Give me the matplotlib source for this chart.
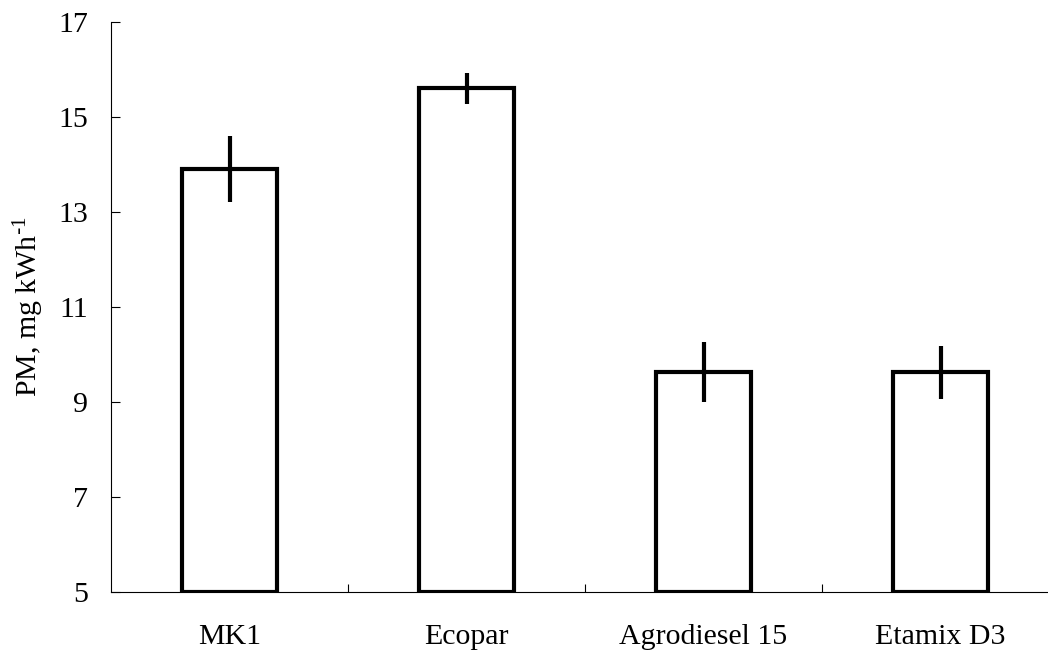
import numpy as np
import matplotlib
matplotlib.use('Agg')
import matplotlib.pyplot as plt
from matplotlib.ticker import FixedLocator

# data
fuels = ['MK1', 'Ecopar', 'Agrodiesel 15', 'Etamix D3']
pm_values = [13.9, 15.6, 9.63, 9.62]
pm_errors = [0.70, 0.33, 0.63, 0.56]
y_ticks = [5, 7, 9, 11, 13, 15, 17]

plt.rcParams['font.family'] = ['Liberation Serif', 'DejaVu Serif']
plt.rcParams['mathtext.default'] = 'regular'

fig = plt.figure(figsize=(10.48, 6.5), dpi=100)
ax = fig.add_axes([111 / 1048, 58.3 / 650, 948 / 1048, 570 / 650])

x = np.arange(len(fuels))
# bars start at the axis floor (5), so height = value - 5
ax.bar(x, np.array(pm_values) - 5, bottom=5, width=0.405,
       color='white', edgecolor='black', linewidth=3, zorder=2)
ax.errorbar(x, pm_values, yerr=pm_errors, fmt='none', ecolor='black',
            elinewidth=3, capsize=0, zorder=3)

ax.set_xlim(-0.5, len(fuels) - 0.5)
ax.set_ylim(5, 17)
ax.set_yticks(y_ticks)
ax.set_xticks(x)
ax.set_xticklabels(fuels)
ax.xaxis.set_minor_locator(FixedLocator(x[:-1] + 0.5))

ax.tick_params(axis='y', direction='in', length=6.5, width=0.8,
               labelsize=21.5, pad=16.5)
ax.tick_params(axis='x', which='major', length=0, labelsize=21.5, pad=23)
ax.tick_params(axis='x', which='minor', direction='in', length=6, width=0.8)

for side in ['top', 'right']:
    ax.spines[side].set_visible(False)
for side in ['left', 'bottom']:
    ax.spines[side].set_linewidth(0.8)

ax.set_ylabel(r'PM, mg kWh$^{\text{-}1}$', fontsize=21.5)
ax.yaxis.set_label_coords(-0.069, 0.5)

fig.savefig('out.png', dpi=100)
